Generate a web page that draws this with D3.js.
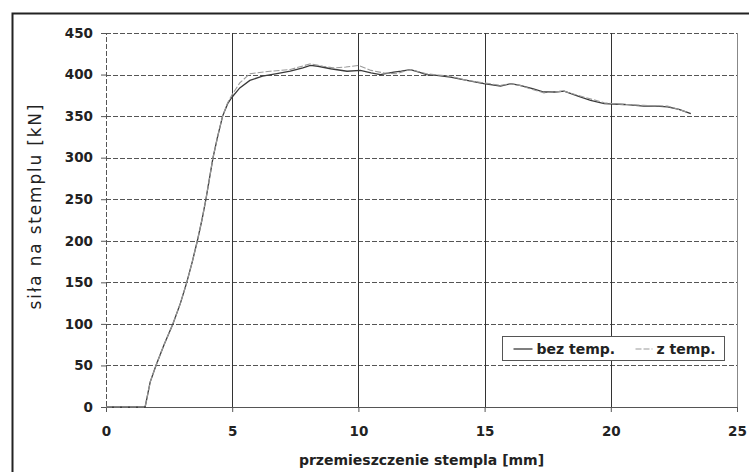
<!DOCTYPE html>
<html>
<head>
<meta charset="utf-8">
<script src="https://cdn.jsdelivr.net/npm/d3@7"></script>
<style>
    body { margin: 0; background: #fff; }
    text { font-family: "DejaVu Sans", "Liberation Sans", sans-serif; fill: #222; }
</style>
</head>
<body>
<div id="chart"></div>
<script>
// "bez temp." series (solid)
const bezX = [0, 1.55, 1.65, 1.75, 1.98, 2.3, 2.65, 2.95, 3.2, 3.42, 3.62, 3.8, 3.96, 4.1, 4.24, 4.42, 4.62, 4.82, 5.0, 5.3, 5.7, 6.2, 6.77, 7.3, 7.8, 8.1, 8.4, 8.9, 9.55, 10.08, 10.5, 10.87, 11.4, 11.7, 12.06, 12.4, 12.7, 13.1, 13.65, 14.3, 14.97, 15.63, 16.03, 16.4, 16.9, 17.35, 17.8, 18.15, 18.7, 19.2, 19.74, 20.53, 21.3, 21.8, 22.25, 22.7, 23.17];
const bezY = [0, 0, 15, 30, 50, 75, 100, 125, 150, 175, 200, 225, 250, 275, 300, 325, 350, 365, 373, 384, 393, 398, 401, 404, 408, 411, 410, 407, 404, 405, 402, 400, 403, 404, 406, 403, 400, 399, 397, 393, 389, 386, 389, 387, 383, 379, 379, 380, 374, 369, 365, 364, 362, 362, 361, 358, 353];

// "z temp." series (dashed)
const zX = [0, 1.55, 1.65, 1.75, 1.98, 2.3, 2.65, 2.95, 3.2, 3.42, 3.62, 3.8, 3.96, 4.1, 4.24, 4.42, 4.62, 4.82, 5.0, 5.3, 5.7, 6.5, 7.3, 8.1, 8.6, 9.0, 9.5, 10.0, 10.5, 11.0, 11.5, 12.06, 12.7, 13.3, 13.65, 14.3, 14.97, 15.63, 16.03, 16.4, 16.9, 17.35, 18.15, 18.7, 19.74, 20.53, 21.3, 22.25, 22.7, 23.0];
const zY = [0, 0, 15, 30, 50, 75, 100, 125, 150, 175, 200, 225, 250, 275, 300, 325, 350, 366, 376, 390, 401, 404, 406, 413, 410, 408, 409, 411, 405, 402, 401, 406, 401, 399, 398, 393, 390, 387, 389, 387, 382, 378, 380, 375, 366, 364, 363, 362, 358, 355];

const xTicks = [0, 5, 10, 15, 20, 25];
const yTicks = [0, 50, 100, 150, 200, 250, 300, 350, 400, 450];
const legendLabels = ["bez temp.", "z temp."];

const W = 749, H = 472;
const margin = { top: 33, right: 12, bottom: 65, left: 106 };
const width = W - margin.left - margin.right;
const height = H - margin.top - margin.bottom;

const svg = d3.select("#chart").append("svg")
    .attr("width", W)
    .attr("height", H);

// outer frame (runs off the right and bottom edge like the scan)
svg.append("rect")
    .attr("x", 12.5).attr("y", 13.5)
    .attr("width", 760).attr("height", 480)
    .attr("fill", "none")
    .attr("stroke", "#222")
    .attr("stroke-width", 2);

const g = svg.append("g")
    .attr("transform", `translate(${margin.left}, ${margin.top})`);

const x = d3.scaleLinear().domain([0, 25]).range([0, width]);
const y = d3.scaleLinear().domain([0, 450]).range([height, 0]);

// horizontal grid (dashed grey)
g.append("g")
    .selectAll("line")
    .data(yTicks)
    .join("line")
    .attr("x1", 0).attr("x2", width)
    .attr("y1", d => Math.round(y(d)) + 0.5)
    .attr("y2", d => Math.round(y(d)) + 0.5)
    .attr("stroke", "#555")
    .attr("stroke-dasharray", "5,2");

// vertical grid (solid)
g.append("g")
    .selectAll("line")
    .data(xTicks.slice(1, -1))
    .join("line")
    .attr("x1", d => Math.round(x(d)) + 0.5)
    .attr("x2", d => Math.round(x(d)) + 0.5)
    .attr("y1", 0).attr("y2", height)
    .attr("stroke", "#333");

// right border of plot
g.append("line")
    .attr("x1", Math.round(width) + 0.5).attr("x2", Math.round(width) + 0.5)
    .attr("y1", 0).attr("y2", height)
    .attr("stroke", "#888");

// axes
const xAxis = g.append("g")
    .attr("transform", `translate(0, ${height})`)
    .call(d3.axisBottom(x).tickValues(xTicks).tickSize(5).tickPadding(14));
const yAxis = g.append("g")
    .call(d3.axisLeft(y).tickValues(yTicks).tickSize(5).tickPadding(8));

[xAxis, yAxis].forEach(a => {
    a.select(".domain")
        .attr("stroke", "#555")
        .attr("stroke-dasharray", "5,2");
    a.selectAll(".tick line").attr("stroke", "#555");
    a.selectAll("text")
        .style("font-family", "'DejaVu Sans', sans-serif")
        .style("font-size", "13.5px")
        .style("font-weight", "bold")
        .style("fill", "#222");
});

// lines
const lineGen = d3.line()
    .x(d => x(d[0]))
    .y(d => y(d[1]));

g.append("path")
    .datum(bezX.map((v, i) => [v, bezY[i]]))
    .attr("fill", "none")
    .attr("stroke", "#3a3a3a")
    .attr("stroke-width", 1.3)
    .attr("d", lineGen);

g.append("path")
    .datum(zX.map((v, i) => [v, zY[i]]))
    .attr("fill", "none")
    .attr("stroke", "#9a9a9a")
    .attr("stroke-width", 1.1)
    .attr("stroke-dasharray", "6,2")
    .attr("d", lineGen);

// axis titles
svg.append("text")
    .attr("x", margin.left + width / 2)
    .attr("y", 465)
    .attr("text-anchor", "middle")
    .style("font-size", "14px")
    .style("font-weight", "bold")
    .text("przemieszczenie stempla [mm]");

svg.append("text")
    .attr("transform", "rotate(-90)")
    .attr("x", -207)
    .attr("y", 41)
    .attr("text-anchor", "middle")
    .attr("textLength", 205)
    .attr("lengthAdjust", "spacing")
    .style("font-size", "17px")
    .text("siła na stemplu [kN]");

// legend
const legend = svg.append("g")
    .attr("transform", "translate(502.5, 336.5)");
legend.append("rect")
    .attr("width", 222).attr("height", 24)
    .attr("fill", "#fff")
    .attr("stroke", "#555");

const legendItems = [
    { label: legendLabels[0], x: 11, w: 19, stroke: "#3a3a3a", dash: null, sw: 1.3 },
    { label: legendLabels[1], x: 133, w: 17, stroke: "#9a9a9a", dash: "6,2", sw: 1.1 }
];
legendItems.forEach(it => {
    legend.append("line")
        .attr("x1", it.x).attr("x2", it.x + it.w)
        .attr("y1", 12.5).attr("y2", 12.5)
        .attr("stroke", it.stroke)
        .attr("stroke-width", it.sw)
        .attr("stroke-dasharray", it.dash);
    legend.append("text")
        .attr("x", it.x + it.w + 4)
        .attr("y", 17.5)
        .style("font-size", "14px")
        .style("font-weight", "bold")
        .text(it.label);
});
</script>
</body>
</html>
